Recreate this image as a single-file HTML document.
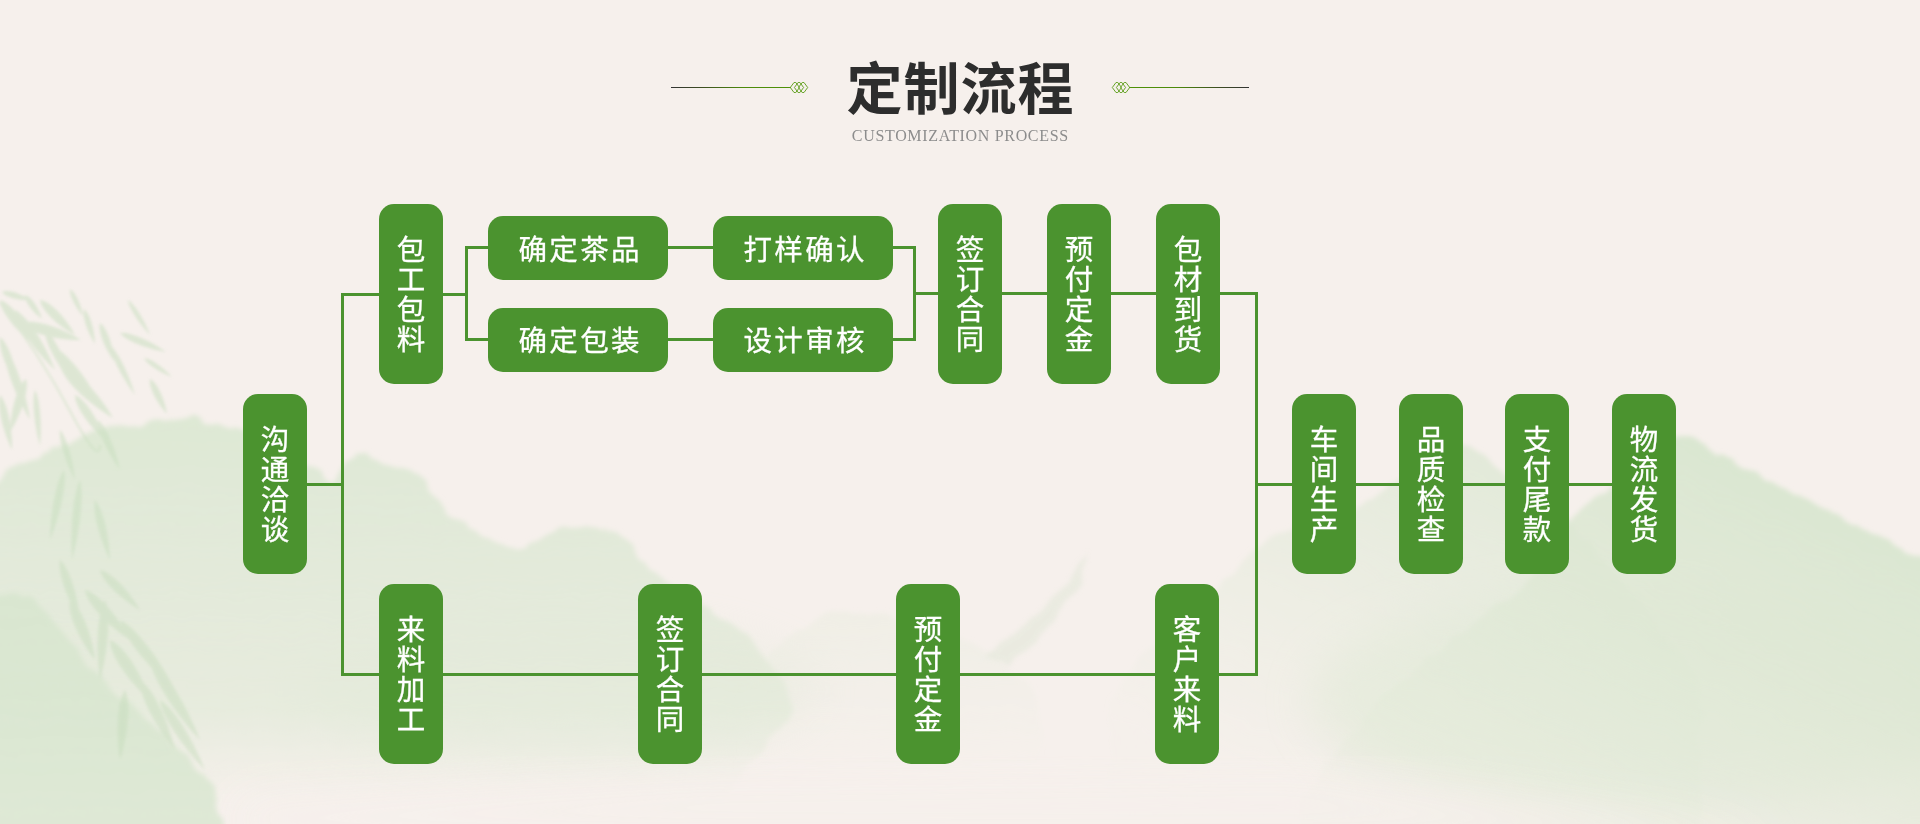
<!DOCTYPE html>
<html lang="zh-CN">
<head>
<meta charset="utf-8">
<title>定制流程</title>
<style>
*{margin:0;padding:0;box-sizing:border-box}
html,body{width:1920px;height:824px;overflow:hidden;background:#f6f0ec}
body{position:relative;font-family:"Liberation Sans","Noto Sans CJK SC",sans-serif}
#bg,#orn{position:absolute;left:0;top:0;width:1920px;height:824px}
.title{position:absolute;left:0;top:55px;width:1920px;text-align:center;font-size:56px;font-weight:700;color:#2d2d2d;line-height:70px;letter-spacing:1px;text-indent:1px}
.sub{position:absolute;left:0;top:126px;width:1920px;text-align:center;font-family:"Liberation Serif",serif;font-size:16px;color:#8c8c8c;line-height:20px;letter-spacing:0.67px;text-indent:0.67px;will-change:transform}
.ln{position:absolute;height:1px;top:87px}
.ln.l{left:671px;width:120px;background:linear-gradient(90deg,#333 0%,#3d4d22 25%,#4c8a0a 60%,#4f9208 100%)}
.ln.r{left:1129px;width:120px;background:linear-gradient(270deg,#333 0%,#3d4d22 25%,#4c8a0a 60%,#4f9208 100%)}
.b{position:absolute;background:#4b932f;border-radius:15px;color:#fff;font-size:28.5px;-webkit-text-stroke:0.3px #fff;display:flex;align-items:center;justify-content:center;text-align:center;will-change:transform}
.v{width:64px;height:180px;line-height:30px;padding-top:2px}
.v span{display:block;width:30px;word-break:break-all}
.h{width:180px;height:64px;line-height:64px;letter-spacing:2.3px;text-indent:4.3px;padding-top:3px}
.c{position:absolute;background:#4b932f}
</style>
</head>
<body>
<svg id="bg" viewBox="0 0 1920 824">
<defs>
<filter id="ink" x="-5%" y="-5%" width="110%" height="110%"><feTurbulence type="fractalNoise" baseFrequency="0.04" numOctaves="4" seed="7" result="n"/><feDisplacementMap in="SourceGraphic" in2="n" scale="13" xChannelSelector="R" yChannelSelector="G"/><feGaussianBlur stdDeviation="2.6"/></filter>
<filter id="soft" x="-20%" y="-20%" width="140%" height="140%"><feGaussianBlur stdDeviation="22"/></filter>
<filter id="lf" x="-5%" y="-5%" width="110%" height="110%"><feGaussianBlur stdDeviation="1.6"/></filter>
<linearGradient id="gA" gradientUnits="userSpaceOnUse" x1="0" y1="415" x2="0" y2="810"><stop offset="0" stop-color="#dce8d3" stop-opacity=".95"/><stop offset=".3" stop-color="#e0e9d7" stop-opacity=".9"/><stop offset=".75" stop-color="#e2ead9" stop-opacity=".75"/><stop offset="1" stop-color="#e6ecdc" stop-opacity="0"/></linearGradient>
<linearGradient id="gC" gradientUnits="userSpaceOnUse" x1="0" y1="590" x2="0" y2="824"><stop offset="0" stop-color="#d8e6cf" stop-opacity=".9"/><stop offset="1" stop-color="#dae7d1" stop-opacity=".85"/></linearGradient>
<linearGradient id="gD" gradientUnits="userSpaceOnUse" x1="1720" y1="440" x2="1540" y2="840"><stop offset="0" stop-color="#d8e6cf" stop-opacity=".95"/><stop offset=".45" stop-color="#dee8d4" stop-opacity=".8"/><stop offset="1" stop-color="#e4ebda" stop-opacity=".25"/></linearGradient>
<linearGradient id="gE" gradientUnits="userSpaceOnUse" x1="1460" y1="440" x2="1300" y2="800"><stop offset="0" stop-color="#dde8d4" stop-opacity=".8"/><stop offset=".6" stop-color="#e3ebda" stop-opacity=".4"/><stop offset="1" stop-color="#e6ecdc" stop-opacity=".05"/></linearGradient>
<linearGradient id="gF" gradientUnits="userSpaceOnUse" x1="0" y1="540" x2="0" y2="780"><stop offset="0" stop-color="#e4ebda" stop-opacity=".55"/><stop offset="1" stop-color="#e9ede0" stop-opacity="0"/></linearGradient>
</defs>
<ellipse cx="1640" cy="700" rx="330" ry="110" fill="#e0e9d6" opacity=".55" filter="url(#soft)"/>
<ellipse cx="560" cy="690" rx="260" ry="70" fill="#e2ead9" opacity=".35" filter="url(#soft)"/>
<path filter="url(#ink)" fill="url(#gA)" d="M-20 484 C-17 483 -5 480 0 478 C5 476 4 474 10 470 C16 466 25 462 35 457 C45 452 58 446 70 442 C82 438 94 433 106 430 C118 427 129 425 141 423 C153 421 167 421 176 420 C185 419 191 417 197 418 C203 419 203 422 211 424 C219 426 232 427 243 431 C254 435 264 442 275 448 C286 454 300 462 307 466 C314 470 315 470 320 473 C325 476 331 482 335 481 C339 480 341 470 344 466 C347 462 350 460 352 458 C354 456 354 455 358 455 C362 455 368 455 375 457 C382 459 390 462 397 465 C404 468 413 470 420 476 C427 482 431 491 438 499 C445 507 451 515 461 522 C471 529 486 536 496 541 C506 546 513 550 519 550 C525 550 524 546 530 543 C536 540 544 536 553 533 C562 530 573 526 583 526 C593 526 602 528 611 531 C620 534 628 539 634 545 C640 551 644 562 650 568 C656 574 661 576 669 582 C677 588 686 593 700 603 C714 613 738 627 753 643 C768 659 787 684 790 700 C793 716 773 733 770 740 L700 830 L-20 830 Z"/>
<path filter="url(#ink)" fill="url(#gF)" d="M740 700 C746 692 764 661 774 649 C784 637 789 636 800 630 C811 624 827 614 839 612 C851 610 860 613 870 615 C880 617 885 618 900 622 C915 626 943 634 960 640 C977 646 987 650 1000 660 C1013 670 1033 693 1040 700 L1040 790 L740 790 Z"/>
<path d="M985 655 Q1040 620 1090 552 Q1075 610 1010 665 Z" fill="#dfe6d6" opacity=".5" filter="url(#ink)"/>
<path filter="url(#ink)" fill="url(#gE)" d="M1110 700 C1117 691 1135 664 1150 648 C1165 632 1182 619 1200 602 C1218 585 1241 561 1258 548 C1275 535 1284 529 1300 522 C1316 515 1343 513 1356 508 C1369 503 1373 497 1380 492 C1387 487 1391 486 1399 480 C1407 474 1421 461 1430 455 C1439 449 1448 445 1455 444 C1462 443 1465 445 1470 447 C1475 449 1479 453 1485 458 C1491 463 1496 468 1505 475 C1514 482 1529 492 1540 500 C1551 508 1556 509 1569 522 C1582 535 1598 554 1620 580 C1642 606 1687 663 1700 680 L1700 830 L1110 830 Z"/>
<path filter="url(#ink)" fill="url(#gD)" d="M1300 800 C1313 783 1354 727 1380 700 C1406 673 1430 658 1455 638 C1480 618 1512 598 1531 579 C1550 560 1556 538 1569 522 C1582 506 1598 494 1612 482 C1626 470 1638 456 1650 448 C1662 440 1671 436 1682 436 C1693 436 1703 444 1715 450 C1727 456 1732 460 1752 471 C1772 482 1805 500 1833 515 C1861 530 1899 547 1920 558 C1941 569 1953 576 1960 580 L1960 840 L1300 840 Z"/>
<path d="M240 840 L240 800 L700 775 L1300 770 L1780 840 Z" fill="#f6f0ec" opacity=".9" filter="url(#soft)"/>
<path filter="url(#ink)" fill="url(#gC)" d="M-20 598 C-17 598 -8 595 0 595 C8 595 22 594 31 598 C40 602 42 605 52 617 C62 629 80 654 93 668 C106 682 116 692 129 704 C142 716 157 727 170 740 C183 753 196 765 206 781 C216 797 224 826 227 835 L-20 835 Z"/>
<g filter="url(#lf)" fill="#c9dfc0" opacity=".55"><path d="M21 323 C28.0 332.6 55.0 340.3 81 340 C59.0 326.1 32.0 318.5 21 323Z"/><path d="M25 295 C24.3 300.9 31.9 311.7 42 319 C38.5 307.1 30.8 296.3 25 295Z"/><path d="M70 289 C68.9 294.5 74.8 306.7 83 316 C80.8 303.7 75.0 291.6 70 289Z"/><path d="M84 309 C81.8 315.5 86.8 331.2 95 344 C94.4 328.8 89.5 313.0 84 309Z"/><path d="M100 323 C97.7 330.3 104.0 347.4 114 361 C112.8 344.2 106.5 327.1 100 323Z"/><path d="M120 333 C125.1 340.2 145.8 348.7 166 352 C149.4 340.1 128.7 331.5 120 333Z"/><path d="M144 358 C146.3 363.6 158.9 372.2 172 377 C162.7 366.6 150.1 358.1 144 358Z"/><path d="M150 379 C148.3 386.3 156.0 402.0 167 414 C164.4 398.0 156.8 382.2 150 379Z"/><path d="M60 365 C62.3 378.6 86.1 402.5 113 418 C97.5 391.1 73.6 367.3 60 365Z"/><path d="M0 337 C-2.3 346.2 5.8 368.2 18 386 C15.8 364.6 7.7 342.5 0 337Z"/><path d="M26 379 C17.8 385.2 10.6 409.1 10 432 C22.2 412.5 29.4 388.7 26 379Z"/><path d="M35 390 C31.7 398.8 34.0 424.0 40 446 C42.0 423.2 39.8 398.0 35 390Z"/><path d="M2 292 C5.1 297.1 17.7 300.7 30 300 C19.9 292.9 7.3 289.3 2 292Z"/><path d="M45 330 C44.0 339.9 55.2 362.4 70 380 C64.8 357.6 53.5 335.1 45 330Z"/><path d="M98 420 C97.0 429.4 106.9 451.9 120 470 C115.5 448.1 105.6 425.6 98 420Z"/><path d="M60 430 C58.4 438.7 65.1 461.2 75 480 C72.9 458.8 66.1 436.3 60 430Z"/><path d="M64 470 C56.6 479.4 50.3 510.9 50 540 C60.9 513.1 67.2 481.6 64 470Z"/><path d="M80 480 C73.5 491.5 69.9 527.5 72 560 C80.5 528.5 84.1 492.5 80 480Z"/><path d="M95 500 C92.1 510.3 98.8 537.3 110 560 C109.2 534.7 102.4 507.7 95 500Z"/><path d="M0 300 C-0.0 310.9 15.7 331.1 35 345 C26.3 322.9 10.5 302.6 0 300Z"/><path d="M5 350 C3.1 362.5 14.3 394.0 30 420 C25.7 390.0 14.4 358.5 5 350Z"/><path d="M40 300 C41.0 309.5 56.7 325.3 75 335 C65.3 316.7 49.5 301.0 40 300Z"/><path d="M15 310 C15.4 322.7 33.4 349.7 55 370 C44.6 342.3 26.6 315.3 15 310Z"/><path d="M50 345 C51.8 357.0 72.0 379.5 95 395 C82.0 370.5 61.7 348.0 50 345Z"/><path d="M75 395 C74.5 405.1 88.0 425.3 105 440 C98.0 418.7 84.5 398.4 75 395Z"/><path d="M0 395 C-3.4 404.4 2.0 429.1 12 450 C12.4 426.9 7.0 402.1 0 395Z"/><path d="M110 345 C110.2 354.3 121.4 376.8 135 395 C128.6 373.2 117.3 350.7 110 345Z"/><path d="M128 300 C128.5 307.0 138.4 322.8 150 335 C144.0 319.2 134.1 303.5 128 300Z"/><path d="M0 303 Q40 355 70 411 T100 445" fill="none" stroke="#c9dfc0" stroke-width="2"/></g>
<g filter="url(#lf)" fill="#c4dbba" opacity=".45"><path d="M70 600 C66.9 611.8 78.2 638.8 95 660 C91.8 633.2 80.6 606.2 70 600Z"/><path d="M85 590 C86.3 602.4 106.5 624.9 130 640 C117.5 615.1 97.2 592.6 85 590Z"/><path d="M110 640 C109.3 653.5 127.3 680.5 150 700 C140.7 671.5 122.7 644.5 110 640Z"/><path d="M120 620 C122.5 635.1 147.2 666.6 175 690 C158.8 657.4 134.0 625.9 120 620Z"/><path d="M140 680 C138.7 693.8 154.4 725.3 175 750 C167.6 718.7 151.8 687.2 140 680Z"/><path d="M150 660 C151.3 675.9 173.8 711.9 200 740 C186.2 704.1 163.7 668.1 150 660Z"/><path d="M60 560 C57.3 570.9 66.3 597.9 80 620 C77.7 594.1 68.7 567.1 60 560Z"/><path d="M100 570 C101.7 580.3 119.7 598.3 140 610 C128.3 589.7 110.3 571.7 100 570Z"/><path d="M160 700 C161.1 714.1 181.4 745.6 205 770 C192.6 738.4 172.4 706.9 160 700Z"/><path d="M105 600 C97.6 611.6 95.3 647.6 100 680 C108.7 648.4 110.9 612.4 105 600Z"/><path d="M125 690 C117.6 700.0 115.3 731.5 120 760 C128.7 732.5 130.9 701.0 125 690Z"/></g>
</svg>

<div class="ln l"></div>
<div class="ln r"></div>
<svg id="orn" viewBox="0 0 1920 824"><g fill="none" stroke="#68a428" stroke-width="1" stroke-linejoin="round"><path d="M790.3 87.5 L794.0 82.5 L795.8 82.5 L799.5 87.5 L795.8 92.5 L794.0 92.5 Z"/><path d="M794.4 87.5 L798.1 82.5 L799.9 82.5 L803.6 87.5 L799.9 92.5 L798.1 92.5 Z"/><path d="M798.5 87.5 L802.2 82.5 L804.0 82.5 L807.7 87.5 L804.0 92.5 L802.2 92.5 Z"/><path d="M1112.3 87.5 L1116.0 82.5 L1117.8 82.5 L1121.5 87.5 L1117.8 92.5 L1116.0 92.5 Z"/><path d="M1116.4 87.5 L1120.1 82.5 L1121.9 82.5 L1125.6 87.5 L1121.9 92.5 L1120.1 92.5 Z"/><path d="M1120.5 87.5 L1124.2 82.5 L1126.0 82.5 L1129.7 87.5 L1126.0 92.5 L1124.2 92.5 Z"/></g></svg>
<div class="title">定制流程</div>
<div class="sub">CUSTOMIZATION PROCESS</div>

<!-- connectors -->
<div class="c" style="left:307px;top:483px;width:36px;height:3px"></div>
<div class="c" style="left:341px;top:293px;width:3px;height:383px"></div>
<div class="c" style="left:341px;top:293px;width:38px;height:3px"></div>
<div class="c" style="left:341px;top:673px;width:917px;height:3px"></div>
<div class="c" style="left:443px;top:293px;width:24px;height:3px"></div>
<div class="c" style="left:465px;top:246px;width:3px;height:95px"></div>
<div class="c" style="left:465px;top:246px;width:451px;height:3px"></div>
<div class="c" style="left:465px;top:338px;width:451px;height:3px"></div>
<div class="c" style="left:913px;top:246px;width:3px;height:95px"></div>
<div class="c" style="left:913px;top:292px;width:345px;height:3px"></div>
<div class="c" style="left:1255px;top:292px;width:3px;height:384px"></div>
<div class="c" style="left:1255px;top:483px;width:357px;height:3px"></div>

<!-- boxes -->
<div class="b v" style="left:243px;top:394px"><span>沟通洽谈</span></div>
<div class="b v" style="left:379px;top:204px"><span>包工包料</span></div>
<div class="b v" style="left:379px;top:584px"><span>来料加工</span></div>
<div class="b h" style="left:488px;top:216px">确定茶品</div>
<div class="b h" style="left:488px;top:308px;padding-top:1px">确定包装</div>
<div class="b h" style="left:713px;top:216px">打样确认</div>
<div class="b h" style="left:713px;top:308px;padding-top:1px">设计审核</div>
<div class="b v" style="left:938px;top:204px"><span>签订合同</span></div>
<div class="b v" style="left:1047px;top:204px"><span>预付定金</span></div>
<div class="b v" style="left:1156px;top:204px"><span>包材到货</span></div>
<div class="b v" style="left:638px;top:584px"><span>签订合同</span></div>
<div class="b v" style="left:896px;top:584px"><span>预付定金</span></div>
<div class="b v" style="left:1155px;top:584px"><span>客户来料</span></div>
<div class="b v" style="left:1292px;top:394px"><span>车间生产</span></div>
<div class="b v" style="left:1399px;top:394px"><span>品质检查</span></div>
<div class="b v" style="left:1505px;top:394px"><span>支付尾款</span></div>
<div class="b v" style="left:1612px;top:394px"><span>物流发货</span></div>
</body>
</html>
